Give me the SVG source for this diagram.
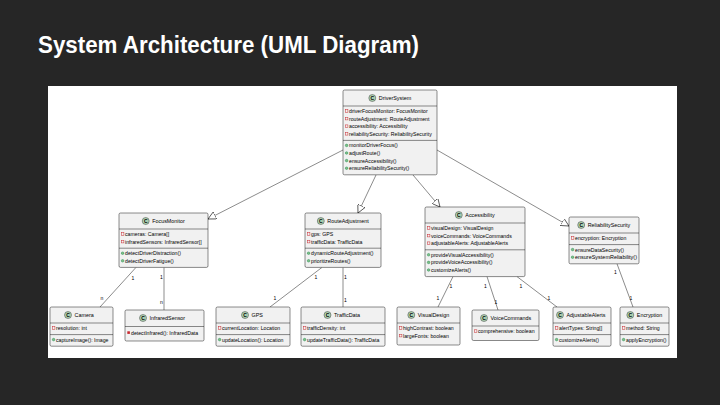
<svg xmlns="http://www.w3.org/2000/svg" width="720" height="405" viewBox="0 0 720 405">
<style>
.bg{fill:#262626}
.title{font-family:"Liberation Sans",Arial,sans-serif;font-weight:bold;font-size:23px;fill:#fff}
.box{fill:#F1F1F1;stroke:#181818;stroke-width:0.5}
.sep{stroke:#181818;stroke-width:0.5}
.t{font-family:"Liberation Sans",Arial,sans-serif;font-size:5.2px;fill:#000}
.n{font-size:5.4px}
.ci{fill:#ADD1B2;stroke:#181818;stroke-width:0.4}
.cl{font-family:"Liberation Sans",Arial,sans-serif;font-size:5px;font-weight:bold;text-anchor:middle;fill:#000}
.fa{fill:none;stroke:#C82930;stroke-width:0.5}
.mr{fill:#C82930}
.mp{fill:#84BE84;stroke:#038048;stroke-width:0.4}
.ln{stroke:#181818;stroke-width:0.5;fill:none}
.lb{font-family:"Liberation Sans",Arial,sans-serif;font-size:5px;fill:#000;text-anchor:middle}
</style>
<defs>
<marker id="tri" viewBox="0 0 10 10" refX="10" refY="5" markerWidth="8" markerHeight="8" markerUnits="userSpaceOnUse" orient="auto">
<path d="M0,0 L10,5 L0,10 Z" fill="#fff" stroke="#181818" stroke-width="0.8"/>
</marker>
</defs>
<rect class="bg" x="0" y="0" width="720" height="405"/>
<text class="title" x="38" y="53" textLength="381" lengthAdjust="spacingAndGlyphs">System Architecture (UML Diagram)</text>
<rect x="48" y="86" width="629" height="272" fill="#fff"/>

<g id="connectors">
<line class="ln" x1="343" y1="150" x2="208" y2="219" marker-end="url(#tri)"/>
<line class="ln" x1="376" y1="175" x2="358" y2="213" marker-end="url(#tri)"/>
<line class="ln" x1="413" y1="175" x2="440" y2="207" marker-end="url(#tri)"/>
<line class="ln" x1="437" y1="150" x2="569" y2="226" marker-end="url(#tri)"/>
<line class="ln" x1="136" y1="267.4" x2="100" y2="307"/>
<text class="lb" x="133" y="280">1</text>
<text class="lb" x="102" y="300">n</text>
<line class="ln" x1="164" y1="267.4" x2="164" y2="310"/>
<text class="lb" x="161.5" y="279">1</text>
<text class="lb" x="161.5" y="304">n</text>
<line class="ln" x1="322" y1="267.4" x2="270" y2="307"/>
<text class="lb" x="316" y="279">1</text>
<text class="lb" x="275" y="300">1</text>
<line class="ln" x1="343" y1="267.4" x2="343" y2="307"/>
<text class="lb" x="345.5" y="279">1</text>
<text class="lb" x="345.5" y="302">1</text>
<line class="ln" x1="453" y1="276.6" x2="438" y2="307"/>
<text class="lb" x="451" y="288">1</text>
<text class="lb" x="438" y="300">1</text>
<line class="ln" x1="487" y1="276.6" x2="498" y2="310"/>
<text class="lb" x="485.5" y="288">1</text>
<text class="lb" x="496" y="304">1</text>
<line class="ln" x1="517" y1="276.6" x2="557" y2="307"/>
<text class="lb" x="521" y="288">1</text>
<text class="lb" x="549" y="300">1</text>
<line class="ln" x1="617" y1="263.8" x2="633" y2="307"/>
<text class="lb" x="615.5" y="274">1</text>
<text class="lb" x="631" y="300">1</text>
</g>

<g id="DriverSystem">
<rect class="box" x="343" y="90" width="94" height="84.8" rx="1.5"/>
<circle class="ci" cx="372.3" cy="98" r="3.5"/><text class="cl" x="372.3" y="99.8">C</text>
<text class="t n" x="378.8" y="100">DriverSystem</text>
<line class="sep" x1="343" y1="106" x2="437" y2="106"/>
<rect class="fa" x="345.3" y="109.7" width="2.6" height="2.6"/><text class="t" x="349" y="112.9">driverFocusMonitor: FocusMonitor</text>
<rect class="fa" x="345.3" y="117.3" width="2.6" height="2.6"/><text class="t" x="349" y="120.5">routeAdjustment: RouteAdjustment</text>
<rect class="fa" x="345.3" y="124.9" width="2.6" height="2.6"/><text class="t" x="349" y="128.1">accessibility: Accessibility</text>
<rect class="fa" x="345.3" y="132.5" width="2.6" height="2.6"/><text class="t" x="349" y="135.7">reliabilitySecurity: ReliabilitySecurity</text>
<line class="sep" x1="343" y1="140.4" x2="437" y2="140.4"/>
<circle class="mp" cx="346.6" cy="145.4" r="1.3"/><text class="t" x="349" y="147.3">monitorDriverFocus()</text>
<circle class="mp" cx="346.6" cy="153" r="1.3"/><text class="t" x="349" y="154.9">adjustRoute()</text>
<circle class="mp" cx="346.6" cy="160.6" r="1.3"/><text class="t" x="349" y="162.5">ensureAccessibility()</text>
<circle class="mp" cx="346.6" cy="168.2" r="1.3"/><text class="t" x="349" y="170.1">ensureReliabilitySecurity()</text>
</g>

<g id="FocusMonitor">
<rect class="box" x="119" y="213" width="89" height="54.4" rx="1.5"/>
<circle class="ci" cx="145.7" cy="221" r="3.5"/><text class="cl" x="145.7" y="222.8">C</text>
<text class="t n" x="152.2" y="223">FocusMonitor</text>
<line class="sep" x1="119" y1="229" x2="208" y2="229"/>
<rect class="fa" x="121.3" y="232.7" width="2.6" height="2.6"/><text class="t" x="125" y="235.9">cameras: Camera[]</text>
<rect class="fa" x="121.3" y="240.3" width="2.6" height="2.6"/><text class="t" x="125" y="243.5">infraredSensors: InfraredSensor[]</text>
<line class="sep" x1="119" y1="248.2" x2="208" y2="248.2"/>
<circle class="mp" cx="122.6" cy="253.2" r="1.3"/><text class="t" x="125" y="255.1">detectDriverDistraction()</text>
<circle class="mp" cx="122.6" cy="260.8" r="1.3"/><text class="t" x="125" y="262.7">detectDriverFatigue()</text>
</g>

<g id="RouteAdjustment">
<rect class="box" x="305" y="213" width="76" height="54.4" rx="1.5"/>
<circle class="ci" cx="320.8" cy="221" r="3.5"/><text class="cl" x="320.8" y="222.8">C</text>
<text class="t n" x="327.3" y="223">RouteAdjustment</text>
<line class="sep" x1="305" y1="229" x2="381" y2="229"/>
<rect class="fa" x="307.3" y="232.7" width="2.6" height="2.6"/><text class="t" x="311" y="235.9">gps: GPS</text>
<rect class="fa" x="307.3" y="240.3" width="2.6" height="2.6"/><text class="t" x="311" y="243.5">trafficData: TrafficData</text>
<line class="sep" x1="305" y1="248.2" x2="381" y2="248.2"/>
<circle class="mp" cx="308.6" cy="253.2" r="1.3"/><text class="t" x="311" y="255.1">dynamicRouteAdjustment()</text>
<circle class="mp" cx="308.6" cy="260.8" r="1.3"/><text class="t" x="311" y="262.7">prioritizeRoutes()</text>
</g>

<g id="Accessibility">
<rect class="box" x="425" y="207" width="100" height="69.6" rx="1.5"/>
<circle class="ci" cx="458.8" cy="215" r="3.5"/><text class="cl" x="458.8" y="216.8">C</text>
<text class="t n" x="465.3" y="217">Accessibility</text>
<line class="sep" x1="425" y1="223" x2="525" y2="223"/>
<rect class="fa" x="427.3" y="226.7" width="2.6" height="2.6"/><text class="t" x="431" y="229.9">visualDesign: VisualDesign</text>
<rect class="fa" x="427.3" y="234.3" width="2.6" height="2.6"/><text class="t" x="431" y="237.5">voiceCommands: VoiceCommands</text>
<rect class="fa" x="427.3" y="241.9" width="2.6" height="2.6"/><text class="t" x="431" y="245.1">adjustableAlerts: AdjustableAlerts</text>
<line class="sep" x1="425" y1="249.8" x2="525" y2="249.8"/>
<circle class="mp" cx="428.6" cy="254.8" r="1.3"/><text class="t" x="431" y="256.7">provideVisualAccessibility()</text>
<circle class="mp" cx="428.6" cy="262.4" r="1.3"/><text class="t" x="431" y="264.3">provideVoiceAccessibility()</text>
<circle class="mp" cx="428.6" cy="270" r="1.3"/><text class="t" x="431" y="271.9">customizeAlerts()</text>
</g>

<g id="ReliabilitySecurity">
<rect class="box" x="569" y="217" width="70" height="46.8" rx="1.5"/>
<circle class="ci" cx="581.2" cy="225" r="3.5"/><text class="cl" x="581.2" y="226.8">C</text>
<text class="t n" x="587.7" y="227">ReliabilitySecurity</text>
<line class="sep" x1="569" y1="233" x2="639" y2="233"/>
<rect class="fa" x="571.3" y="236.7" width="2.6" height="2.6"/><text class="t" x="575" y="239.9">encryption: Encryption</text>
<line class="sep" x1="569" y1="244.6" x2="639" y2="244.6"/>
<circle class="mp" cx="572.6" cy="249.6" r="1.3"/><text class="t" x="575" y="251.5">ensureDataSecurity()</text>
<circle class="mp" cx="572.6" cy="257.2" r="1.3"/><text class="t" x="575" y="259.1" textLength="62" lengthAdjust="spacingAndGlyphs">ensureSystemReliability()</text>
</g>

<g id="Camera">
<rect class="box" x="50" y="307" width="63" height="39.2" rx="1.5"/>
<circle class="ci" cx="68" cy="315" r="3.5"/><text class="cl" x="68" y="316.8">C</text>
<text class="t n" x="74.5" y="317">Camera</text>
<line class="sep" x1="50" y1="323" x2="113" y2="323"/>
<rect class="fa" x="52.3" y="326.7" width="2.6" height="2.6"/><text class="t" x="56" y="329.9">resolution: int</text>
<line class="sep" x1="50" y1="334.6" x2="113" y2="334.6"/>
<circle class="mp" cx="53.6" cy="339.6" r="1.3"/><text class="t" x="56" y="341.5">captureImage(): Image</text>
</g>

<g id="InfraredSensor">
<rect class="box" x="125" y="310" width="79" height="31" rx="1.5"/>
<circle class="ci" cx="143" cy="318" r="3.5"/><text class="cl" x="143" y="319.8">C</text>
<text class="t n" x="149.5" y="320">InfraredSensor</text>
<line class="sep" x1="125" y1="326.5" x2="204" y2="326.5"/>
<rect class="mr" x="127.3" y="331.3" width="2.6" height="2.6"/><text class="t" x="131" y="334.5">detectInfrared(): InfraredData</text>
</g>

<g id="GPS">
<rect class="box" x="216" y="307" width="74" height="39.2" rx="1.5"/>
<circle class="ci" cx="245" cy="315" r="3.5"/><text class="cl" x="245" y="316.8">C</text>
<text class="t n" x="251.5" y="317">GPS</text>
<line class="sep" x1="216" y1="323" x2="290" y2="323"/>
<rect class="fa" x="218.3" y="326.7" width="2.6" height="2.6"/><text class="t" x="222" y="329.9">currentLocation: Location</text>
<line class="sep" x1="216" y1="334.6" x2="290" y2="334.6"/>
<circle class="mp" cx="219.6" cy="339.6" r="1.3"/><text class="t" x="222" y="341.5">updateLocation(): Location</text>
</g>

<g id="TrafficData">
<rect class="box" x="301" y="307" width="84" height="39.2" rx="1.5"/>
<circle class="ci" cx="327.5" cy="315" r="3.5"/><text class="cl" x="327.5" y="316.8">C</text>
<text class="t n" x="334" y="317">TrafficData</text>
<line class="sep" x1="301" y1="323" x2="385" y2="323"/>
<rect class="fa" x="303.3" y="326.7" width="2.6" height="2.6"/><text class="t" x="307" y="329.9">trafficDensity: int</text>
<line class="sep" x1="301" y1="334.6" x2="385" y2="334.6"/>
<circle class="mp" cx="304.6" cy="339.6" r="1.3"/><text class="t" x="307" y="341.5">updateTrafficData(): TrafficData</text>
</g>

<g id="VisualDesign">
<rect class="box" x="397" y="307" width="63" height="38" rx="1.5"/>
<circle class="ci" cx="411.3" cy="315" r="3.5"/><text class="cl" x="411.3" y="316.8">C</text>
<text class="t n" x="417.8" y="317">VisualDesign</text>
<line class="sep" x1="397" y1="323" x2="460" y2="323"/>
<rect class="fa" x="399.3" y="326.7" width="2.6" height="2.6"/><text class="t" x="403" y="329.9">highContrast: boolean</text>
<rect class="fa" x="399.3" y="334.3" width="2.6" height="2.6"/><text class="t" x="403" y="337.5">largeFonts: boolean</text>
</g>

<g id="VoiceCommands">
<rect class="box" x="472" y="310" width="67" height="30.5" rx="1.5"/>
<circle class="ci" cx="484" cy="318" r="3.5"/><text class="cl" x="484" y="319.8">C</text>
<text class="t n" x="490.5" y="320">VoiceCommands</text>
<line class="sep" x1="472" y1="326" x2="539" y2="326"/>
<rect class="fa" x="474.3" y="329.8" width="2.6" height="2.6"/><text class="t" x="478" y="333">comprehensive: boolean</text>
</g>

<g id="AdjustableAlerts">
<rect class="box" x="553" y="307" width="58" height="39.2" rx="1.5"/>
<circle class="ci" cx="560" cy="315" r="3.5"/><text class="cl" x="560" y="316.8">C</text>
<text class="t n" x="566.5" y="317">AdjustableAlerts</text>
<line class="sep" x1="553" y1="323" x2="611" y2="323"/>
<rect class="fa" x="555.3" y="326.7" width="2.6" height="2.6"/><text class="t" x="559" y="329.9">alertTypes: String[]</text>
<line class="sep" x1="553" y1="334.6" x2="611" y2="334.6"/>
<circle class="mp" cx="556.6" cy="339.6" r="1.3"/><text class="t" x="559" y="341.5">customizeAlerts()</text>
</g>

<g id="Encryption">
<rect class="box" x="620" y="307" width="49" height="39.2" rx="1.5"/>
<circle class="ci" cx="630.3" cy="315" r="3.5"/><text class="cl" x="630.3" y="316.8">C</text>
<text class="t n" x="636.8" y="317">Encryption</text>
<line class="sep" x1="620" y1="323" x2="669" y2="323"/>
<rect class="fa" x="622.3" y="326.7" width="2.6" height="2.6"/><text class="t" x="626" y="329.9">method: String</text>
<line class="sep" x1="620" y1="334.6" x2="669" y2="334.6"/>
<circle class="mp" cx="623.6" cy="339.6" r="1.3"/><text class="t" x="626" y="341.5">applyEncryption()</text>
</g>
</svg>
